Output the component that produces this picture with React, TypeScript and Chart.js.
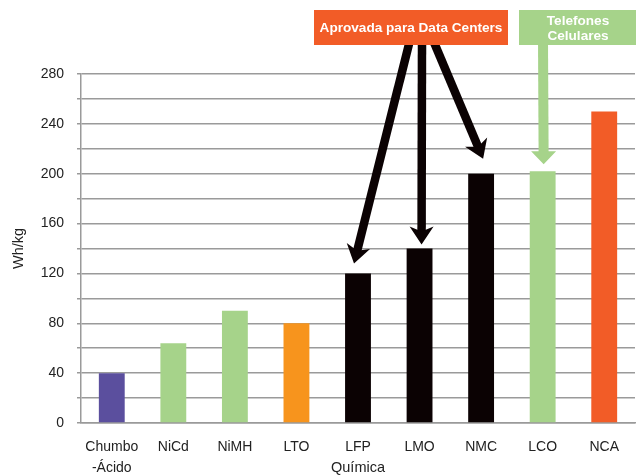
import React, { useEffect, useRef } from "react";
import { Chart, registerables } from "chart.js";

Chart.register(...registerables);

const categories: (string | string[])[] = [
  ["Chumbo", "-Ácido"],
  "NiCd",
  "NiMH",
  "LTO",
  "LFP",
  "LMO",
  "NMC",
  "LCO",
  "NCA",
];
const energyDensity = [40, 64, 90, 80, 120, 140, 200, 202, 250];
const barColors = [
  "#5b4f9e",
  "#a6d38a",
  "#a6d38a",
  "#f7941d",
  "#0b0203",
  "#0b0203",
  "#0b0203",
  "#a6d38a",
  "#f25c27",
];
const yMax = 280;
const yStep = 20;
const yLabelEvery = 40;
const dataCenterIdx = [4, 5, 6];
const phoneIdx = 7;
const dataCenterText = "Aprovada para Data Centers";
const phoneText = ["Telefones", "Celulares"];

const FONT = "'Liberation Sans', Arial, sans-serif";

function drawArrow(
  ctx: CanvasRenderingContext2D,
  x0: number,
  y0: number,
  x1: number,
  y1: number,
  color: string,
  shaft: number,
  headLen: number,
  headHalf: number,
  notch: number
) {
  const dx = x1 - x0;
  const dy = y1 - y0;
  const len = Math.sqrt(dx * dx + dy * dy);
  const ux = dx / len;
  const uy = dy / len;
  const px = -uy;
  const py = ux;
  const bx = x1 - ux * headLen;
  const by = y1 - uy * headLen;
  ctx.save();
  ctx.strokeStyle = color;
  ctx.fillStyle = color;
  ctx.lineWidth = shaft;
  ctx.lineCap = "butt";
  ctx.beginPath();
  ctx.moveTo(x0, y0);
  ctx.lineTo(bx + ux * (notch + 2), by + uy * (notch + 2));
  ctx.stroke();
  const nx = bx + ux * notch;
  const ny = by + uy * notch;
  ctx.beginPath();
  ctx.moveTo(x1, y1);
  ctx.lineTo(bx + px * headHalf, by + py * headHalf);
  ctx.lineTo(nx, ny);
  ctx.lineTo(bx - px * headHalf, by - py * headHalf);
  ctx.closePath();
  ctx.fill();
  ctx.restore();
}

const annotationPlugin = {
  id: "annotations",
  afterDatasetsDraw(chart: any) {
    const ctx: CanvasRenderingContext2D = chart.ctx;
    const xs = chart.scales.x;
    const ys = chart.scales.y;
    const top = (i: number) => ys.getPixelForValue(energyDensity[i]);
    const cx = (i: number) => xs.getPixelForValue(i);

    // black arrows from the orange box
    const [iLFP, iLMO, iNMC] = dataCenterIdx;
    const black = "#0b0203";
    drawArrow(ctx, 410, 40, cx(iLFP) - 4, top(iLFP) - 10, black, 8.5, 18, 12, 5);
    drawArrow(ctx, 422, 40, cx(iLMO) + 2, top(iLMO) - 4, black, 8.5, 18, 12, 5);
    drawArrow(ctx, 433, 40, cx(iNMC) + 2, top(iNMC) - 15, black, 8.5, 18, 12, 5);

    // green arrow
    drawArrow(ctx, 543, 40, cx(phoneIdx) + 1, top(phoneIdx) - 7, "#a6d38a", 10, 13, 12.5, 0);

    // boxes
    ctx.save();
    ctx.fillStyle = "#f25c27";
    ctx.fillRect(314, 10, 194, 35);
    ctx.fillStyle = "#a6d38a";
    ctx.fillRect(519, 10, 117, 35);
    ctx.fillStyle = "#ffffff";
    ctx.textAlign = "center";
    ctx.textBaseline = "middle";
    ctx.font = `bold 13.6px ${FONT}`;
    ctx.fillText(dataCenterText, 411, 28.5);
    ctx.fillText(phoneText[0], 578, 21.5);
    ctx.fillText(phoneText[1], 578, 36);
    ctx.restore();
  },
};

export default function App() {
  const ref = useRef<HTMLCanvasElement | null>(null);
  useEffect(() => {
    if (!ref.current) return;
    const chart = new Chart(ref.current, {
      type: "bar",
      data: {
        labels: categories as any,
        datasets: [
          {
            data: energyDensity,
            backgroundColor: barColors,
            borderWidth: 0,
            barPercentage: 0.42,
            categoryPercentage: 1,
          },
        ],
      },
      options: {
        animation: false,
        responsive: false,
        devicePixelRatio: 1,
        layout: { padding: { top: 74, right: 1, left: 0, bottom: 0 } },
        plugins: {
          legend: { display: false },
          tooltip: { enabled: false },
        },
        scales: {
          x: {
            afterFit: (s: any) => {
              s.height = 52;
            },
            grid: { display: false },
            border: { display: true, color: "#9a9a9a", width: 1.5 },
            ticks: {
              color: "#222",
              font: { family: FONT, size: 14, lineHeight: 1.5 },
              padding: 6,
              maxRotation: 0,
              autoSkip: false,
            },
            title: {
              display: true,
              text: "Química",
              color: "#222",
              font: { family: FONT, size: 14.5, lineHeight: 1 },
              padding: { top: 0, bottom: 0 },
            },
          },
          y: {
            min: 0,
            max: yMax,
            afterFit: (s: any) => {
              s.width = 81;
            },
            grid: {
              color: "#9a9a9a",
              lineWidth: 1.5,
              tickLength: 4,
            },
            border: { display: true, color: "#9a9a9a", width: 1.5 },
            ticks: {
              stepSize: yStep,
              color: "#222",
              font: { family: FONT, size: 14 },
              padding: 13,
              callback: (v: any) => (Number(v) % yLabelEvery === 0 ? String(v) : ""),
            },
            title: {
              display: true,
              text: "Wh/kg",
              color: "#222",
              font: { family: FONT, size: 14.5 },
              padding: { top: 10, bottom: 0 },
            },
          },
        },
      },
      plugins: [annotationPlugin],
    });
    return () => chart.destroy();
  }, []);
  return (
    <div style={{ position: "absolute", left: 0, top: 0, width: 636, height: 475, background: "#fff" }}>
      <canvas ref={ref} width={636} height={475} style={{ width: 636, height: 475, display: "block" }} />
    </div>
  );
}
